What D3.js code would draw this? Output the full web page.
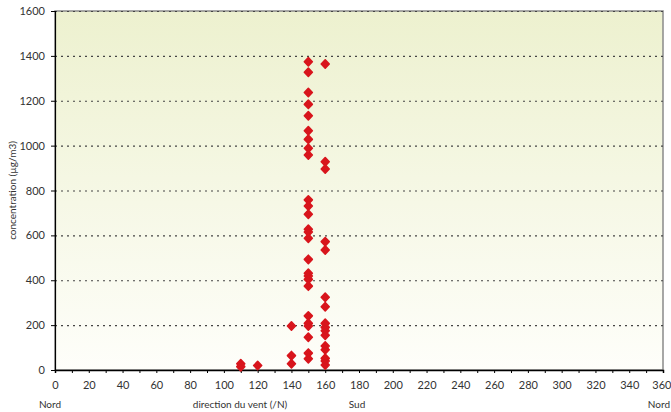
<!DOCTYPE html>
<html><head><meta charset="utf-8">
<script src="https://cdn.jsdelivr.net/npm/d3@7"></script>
<style>body{margin:0;background:#fff}svg{display:block}text{font-family:Lato,"Open Sans",sans-serif;fill:#333}</style>
</head><body>
<svg id="c" width="671" height="412"></svg>
<script>
// wind direction (degrees from North)
const directions = [110,110,120,140,140,140,
  150,150,150,150,150,150,150,150,150,150,150,150,150,150,150,150,150,150,150,150,150,150,150,150,150,150,
  160,160,160,160,160,160,160,160,160,160,160,160,160,160,160,160];
// concentration (µg/m3)
const concentrations = [28,15,20,196,64,28,
  1374,1327,1237,1184,1133,1066,1028,988,958,758,731,694,627,615,587,493,431,419,404,374,241,208,196,146,75,50,
  1364,928,896,572,535,324,282,208,190,175,155,107,90,52,40,22];
const xTicks = d3.range(0, 361, 20);
const xMinor = d3.range(0, 361, 10);
const yTicks = d3.range(0, 1601, 200);

const svg = d3.select("#c");
const L = 55, R = 663, T = 11, B = 370;
const x = d3.scaleLinear().domain([0, 360]).range([L, R]);
const y = d3.scaleLinear().domain([0, 1600]).range([B, T]);

const defs = svg.append("defs");
const g = defs.append("linearGradient").attr("id","bg").attr("x1",0).attr("x2",0).attr("y1",0).attr("y2",1);
g.append("stop").attr("offset","0%").attr("stop-color","#edf1cf");
g.append("stop").attr("offset","100%").attr("stop-color","#fefefa");

svg.append("rect").attr("x",L).attr("y",T).attr("width",R-L).attr("height",B-T)
  .attr("fill","url(#bg)").attr("stroke","#8a8a8a").attr("stroke-width",1.5);

// grid lines
svg.append("g").selectAll("line").data(yTicks.filter(d=>d>0)).join("line")
  .attr("x1",L).attr("x2",R).attr("y1",d=>y(d)+0.5).attr("y2",d=>y(d)+0.5)
  .attr("stroke","#444").attr("stroke-width",1.2).attr("stroke-dasharray","2,4");

// y axis
const ya = svg.append("g").attr("transform",`translate(${L},0)`)
  .call(d3.axisLeft(y).tickValues(yTicks).tickSize(4).tickPadding(6).tickFormat(d3.format("d")));
ya.select(".domain").attr("stroke","#000").attr("stroke-width",1.2);
ya.selectAll(".tick line").attr("stroke","#000");
ya.selectAll("text").style("font-size","11px").attr("fill","#333");

// x axis
const xa = svg.append("g").attr("transform",`translate(0,${B})`)
  .call(d3.axisBottom(x).tickValues(xMinor).tickSize(3).tickPadding(8)
    .tickFormat(d => d % 20 === 0 ? d : ""));
xa.select(".domain").attr("stroke","#000").attr("stroke-width",1.5);
xa.selectAll(".tick line").attr("stroke","#000");
xa.selectAll("text").style("font-size","11px").attr("fill","#333");
xa.selectAll(".tick").filter(d => d === 360).select("text").attr("text-anchor","end").attr("dx","8");

// points
const pts = directions.map((d,i)=>({d, c: concentrations[i]}));
svg.append("g").selectAll("path").data(pts).join("path")
  .attr("transform", p => `translate(${x(p.d)},${y(p.c)})`)
  .attr("d", "M0,-4.2L4,0L0,4.2L-4,0Z")
  .attr("fill","#d8151c").attr("stroke","#d8151c").attr("stroke-width",1.6).attr("stroke-linejoin","round");

// labels
svg.append("text").attr("transform",`translate(16,${(T+B)/2}) rotate(-90)`)
  .attr("text-anchor","middle").style("font-size","10px").text("concentration (µg/m3)");
svg.append("text").attr("x",x(0)-5).attr("y",408).attr("text-anchor","middle").style("font-size","10px").text("Nord");
svg.append("text").attr("x",240).attr("y",408).attr("text-anchor","middle").style("font-size","10px").text("direction du vent (/N)");
svg.append("text").attr("x",x(180)-2).attr("y",408).attr("text-anchor","middle").style("font-size","10px").text("Sud");
svg.append("text").attr("x",670).attr("y",408).attr("text-anchor","end").style("font-size","10px").text("Nord");
</script>
</body></html>
